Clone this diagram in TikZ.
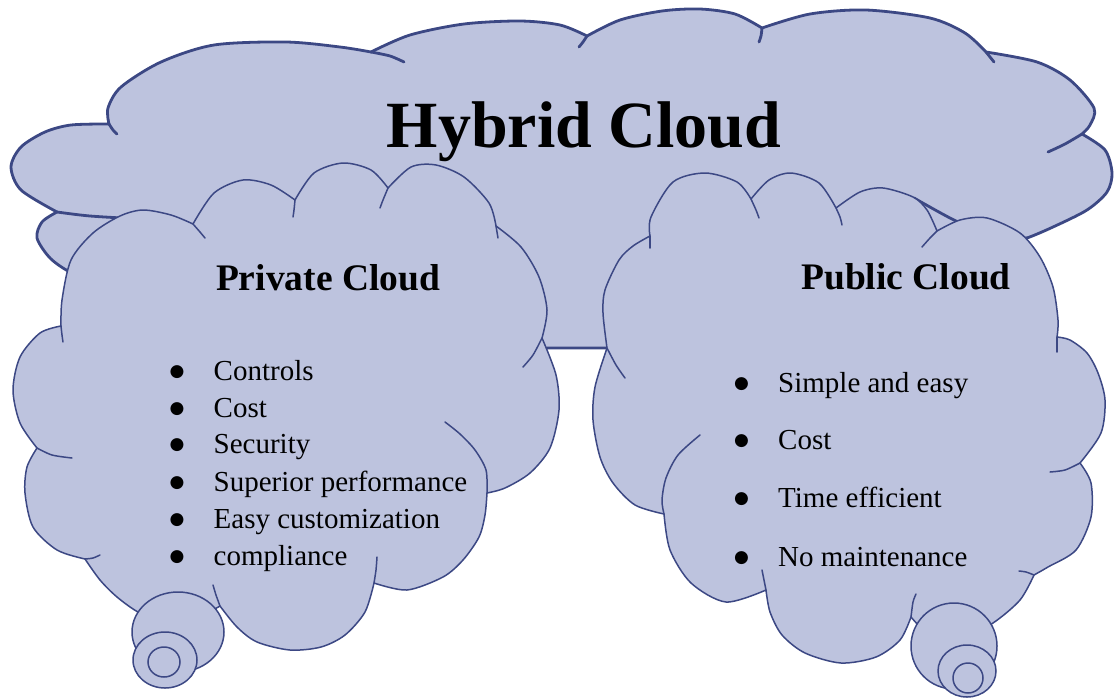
\documentclass[tikz,border=0pt]{standalone}
\usepackage{fontspec}
\setmainfont{Liberation Serif}
\newfontfamily\dotfont{DejaVu Sans}
\usetikzlibrary{positioning}
\definecolor{cloudfill}{RGB}{189,195,222}
\definecolor{cloudline}{RGB}{60,72,132}
\newcommand{\itembul}{\makebox[44pt][l]{\raisebox{3.5pt}{\dotfont\fontsize{17}{17}\selectfont ●}}}
\tikzset{
hybridcloud/.style={fill=cloudfill, draw=cloudline, line width=2.8pt, line join=round}, % the big cloud at the back
smallcloud/.style={fill=cloudfill, draw=cloudline, line width=1.5pt, line join=round}, % private and public cloud
hook/.style={draw=cloudline, line width=1.5pt, line cap=round}, % inner lines where two puffs meet
thickhook/.style={draw=cloudline, line width=2.8pt, line cap=round},
bubble/.style={fill=cloudfill, draw=cloudline, line width=1.5pt}, % the little thought bubbles
bigtitle/.style={font=\fontsize{66}{70}\selectfont\bfseries, anchor=base, inner sep=0pt},
subtitle/.style={font=\fontsize{37.5}{40}\selectfont\bfseries, anchor=base, inner sep=0pt},
item/.style={font=\fontsize{29}{32}\selectfont, anchor=base west, inner sep=0pt},
}

\begin{document}
\begin{tikzpicture}[x=1pt, y=-1pt]
\path[fill=white, use as bounding box] (0,0) rectangle (1115,699);

% hybrid cloud
\path[hybridcloud]
 plot[smooth] coordinates {(109,124) (108,108) (121,87) (161,62) (214,45) (286,42) (340,47) (371,52)}
 -- plot[smooth] coordinates {(371,52) (410,35) (464,24) (520,21) (560,25) (587,36)}
 -- plot[smooth] coordinates {(587,36) (620,20) (662,11) (700,9) (735,14) (762,28)}
 -- plot[smooth] coordinates {(762,28) (810,14) (866,10) (930,18) (965,33) (986,52)}
 -- plot[smooth] coordinates {(986,52) (1037,62) (1070,80) (1094,108) (1090,125) (1082,134)}
 -- plot[smooth] coordinates {(1082,134) (1105,150) (1112,173) (1107,192) (1087,210) (1053,227) (1027,238) (1010,242)}
 -- (960,252) -- (850,245) -- (700,290) -- (607,348) -- (548,348) -- (530,350) -- (500,330) -- (300,292) -- (120,284) -- (95,280)
 -- plot[smooth] coordinates {(95,280) (70,272) (50,258) (37,238) (42,222) (57,212)}
 -- plot[smooth] coordinates {(57,212) (21,190) (11,167) (21,147) (45,132) (71,125) (109,124)}
 -- cycle;
\draw[thickhook] plot[smooth] coordinates {(109,124) (113,130) (117,134)};
\draw[thickhook] plot[smooth] coordinates {(371,52) (390,56) (404,62)};
\draw[thickhook] plot[smooth] coordinates {(587,36) (583,42) (579,47)};
\draw[thickhook] plot[smooth] coordinates {(762,28) (761,36) (759,42)};
\draw[thickhook] plot[smooth] coordinates {(986,52) (990,57) (994,62)};
\draw[thickhook] plot[smooth] coordinates {(1082,134) (1065,144) (1048,152)};
\draw[thickhook] plot[smooth] coordinates {(57,212) (90,216) (140,219)};
\draw[thickhook] plot[smooth] coordinates {(1027,238) (995,235) (958,222) (914,198)};

% private cloud
\path[smallcloud]
 plot[smooth] coordinates {(61,326) (62,300) (71,260) (93,233) (120,216) (143,210) (171,215) (193,224)}
 -- plot[smooth] coordinates {(193,224) (214,193) (243,180) (271,185) (295,200)}
 -- plot[smooth] coordinates {(295,200) (314,173) (343,163) (371,170) (388,188)}
 -- plot[smooth] coordinates {(388,188) (411,167) (436,165) (464,177) (489,203) (496,226)}
 -- plot[smooth] coordinates {(496,226) (521,247) (539,277) (547,310) (542,338)}
 -- plot[smooth] coordinates {(542,338) (556,375) (559,410) (550,448) (530,473) (505,488) (487,493)}
 -- plot[smooth] coordinates {(487,493) (485,515) (479,537) (463,560) (443,577) (407,590) (374,583)}
 -- plot[smooth] coordinates {(374,583) (365,612) (345,635) (321,647) (290,650) (257,642) (237,627) (220,606)}
 -- plot[smooth] coordinates {(220,606) (195,618) (160,620) (138,612) (117,597) (100,580) (85,559)}
 -- plot[smooth] coordinates {(85,559) (57,550) (33,527) (25,493) (27,467) (37,448)}
 -- plot[smooth] coordinates {(37,448) (20,423) (13,390) (20,357) (40,333) (61,326)}
 -- cycle;
\draw[hook] plot[smooth] coordinates {(61,326) (62,335) (63,342)};
\draw[hook] plot[smooth] coordinates {(193,224) (200,232) (205,238)};
\draw[hook] plot[smooth] coordinates {(295,200) (294,210) (293,217)};
\draw[hook] plot[smooth] coordinates {(388,188) (383,200) (380,208)};
\draw[hook] plot[smooth] coordinates {(496,226) (497,232) (498,238)};
\draw[hook] plot[smooth] coordinates {(542,338) (533,355) (523,367)};
\draw[hook] plot[smooth] coordinates {(487,493) (486,470) (475,450) (460,434) (445,422)};
\draw[hook] plot[smooth] coordinates {(374,583) (376,570) (377,557)};
\draw[hook] plot[smooth] coordinates {(220,606) (216,595) (213,585)};
\draw[hook] plot[smooth] coordinates {(85,559) (93,558) (100,555)};
\draw[hook] plot[smooth] coordinates {(37,448) (52,455) (72,458)};

% public cloud
\path[smallcloud]
 plot[smooth] coordinates {(650,236) (651,217) (673,182) (705,173) (737,182) (751,199)}
 -- plot[smooth] coordinates {(751,199) (769,180) (791,173) (819,183) (836,208)}
 -- plot[smooth] coordinates {(836,208) (860,192) (883,188) (913,197) (927,210) (937,231)}
 -- plot[smooth] coordinates {(937,231) (960,220) (987,218) (1020,233) (1040,257) (1053,287) (1058,320) (1057,337)}
 -- plot[smooth] coordinates {(1057,337) (1070,340) (1087,353) (1098,373) (1105,400) (1101,433) (1080,463)}
 -- plot[smooth] coordinates {(1080,463) (1091,483) (1091,517) (1076,550) (1048,567) (1034,575)}
 -- plot[smooth] coordinates {(1034,575) (1020,600) (993,623) (960,640) (930,635) (911,617)}
 -- plot[smooth] coordinates {(911,617) (900,640) (876,657) (841,663) (805,653) (782,635) (770,612) (766,590)}
 -- plot[smooth] coordinates {(766,590) (726,602) (691,583) (670,550) (664,514)}
 -- plot[smooth] coordinates {(664,514) (635,505) (613,483) (600,457) (593,420) (595,387) (607,348)}
 -- plot[smooth] coordinates {(607,348) (603,313) (605,290) (619,260) (633,246) (650,236)}
 -- cycle;
\draw[hook] plot[smooth] coordinates {(650,236) (650,242) (650,248)};
\draw[hook] plot[smooth] coordinates {(751,199) (756,210) (759,218)};
\draw[hook] plot[smooth] coordinates {(836,208) (840,217) (842,225)};
\draw[hook] plot[smooth] coordinates {(937,231) (930,238) (922,247)};
\draw[hook] plot[smooth] coordinates {(1057,337) (1057,345) (1057,352)};
\draw[hook] plot[smooth] coordinates {(1080,463) (1065,470) (1050,472)};
\draw[hook] plot[smooth] coordinates {(1034,575) (1026,572) (1019,571)};
\draw[hook] plot[smooth] coordinates {(911,617) (913,602) (916,594)};
\draw[hook] plot[smooth] coordinates {(766,590) (764,580) (762,570)};
\draw[hook] plot[smooth] coordinates {(664,514) (662,500) (666,478) (678,455) (700,435)};
\draw[hook] plot[smooth] coordinates {(607,348) (616,365) (625,378)};

% thought bubbles
\path[bubble] (178,632) ellipse [x radius=46, y radius=40];
\path[bubble] (165,660) ellipse [x radius=32, y radius=28];
\path[bubble] (164,662) ellipse [x radius=16, y radius=15];
\path[bubble] (954,646) circle [radius=43];
\path[bubble] (967,671) ellipse [x radius=29, y radius=26];
\path[bubble] (968,678) circle [radius=15];

% texts
\node[bigtitle] (hybrid) at (584,147) {Hybrid Cloud};
\node[subtitle] (private) at (328,290) {Private Cloud};
\node[subtitle] (public) at (906,289) {Public Cloud};

\node[item] (pv1) at (169.5,380) {\itembul Controls};
\node[item] (pv2) at (169.5,417) {\itembul Cost};
\node[item] (pv3) at (169.5,453) {\itembul Security};
\node[item] (pv4) at (169.5,491) {\itembul Superior performance};
\node[item] (pv5) at (169.5,528) {\itembul Easy customization};
\node[item] (pv6) at (169.5,565) {\itembul compliance};

\node[item] (pb1) at (734,392) {\itembul Simple and easy};
\node[item] (pb2) at (734,449) {\itembul Cost};
\node[item] (pb3) at (734,507) {\itembul Time efficient};
\node[item] (pb4) at (734,566) {\itembul No maintenance};
\end{tikzpicture}
\end{document}
